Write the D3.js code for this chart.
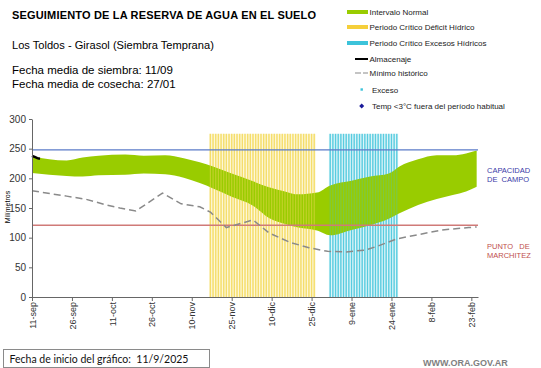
<!DOCTYPE html>
<html><head><meta charset="utf-8">
<script src="https://cdn.jsdelivr.net/npm/d3@7"></script>
<style>
body{margin:0;background:#fff;}
svg{display:block;font-family:"Liberation Sans",Arial,sans-serif;}
</style></head>
<body><svg id="c" width="541" height="368"></svg>
<script>
// ---- data (day offsets from 11/9/2025) ----
const tickDays = [0,15,30,45,60,75,90,105,120,135,150,165];
const tickLabels = ["11-sep","26-sep","11-oct","26-oct","10-nov","25-nov","10-dic","25-dic","9-ene","24-ene","8-feb","23-feb"];
const yTicks = [0,50,100,150,200,250,300];

const normalDays  = [0,13,19,25,35,42,50,57,63,68,75,83,89,95,100,107,112,120,127,134,138,145,152,158,163,167];
const normalUpper = [237,230,235,238,240,238,239,234,227,220,208,195,185,178,173,176,188,196,203,208,220,232,239,239,242,247];
const normalLower = [209,204,203,205,206,208,207,201,192,183,169,154,133,123,117,112,104,113,121,132,141,155,165,172,178,186];

const minDays = [0,13,20,28,33,39,49,56,63,67,73,83,89,97,104,111,118,125,130,137,145,154,164,167];
const minVals = [179,170,165,155,150,145,175,157,152,143,117,130,108,92,83,77,76,79,86,98,105,113,117,118];

const storDays = [0,1,2,3];
const storVals = [238,236,234,233];

const deficitPeriod = [67,106];   // first and last day
const excessPeriod  = [112,137];
const periodHeight = 275;

const capacidadCampo = 248;
const puntoMarchitez = 121;

// ---- layout ----
const svg = d3.select("#c");
const x = d3.scaleLinear().domain([0,167.5]).range([32,478]);
const y = d3.scaleLinear().domain([0,300]).range([297,119]);

// titles
svg.append("text").attr("x",12).attr("y",19).attr("font-weight","bold").attr("font-size",11)
  .attr("textLength",304).attr("lengthAdjust","spacing").text("SEGUIMIENTO DE LA RESERVA DE AGUA EN EL SUELO");
svg.append("text").attr("x",12).attr("y",49).attr("font-size",11.1).text("Los Toldos - Girasol (Siembra Temprana)");
svg.append("text").attr("x",12).attr("y",74).attr("font-size",11.5).text("Fecha media de siembra: 11/09");
svg.append("text").attr("x",12).attr("y",88).attr("font-size",11.5).text("Fecha media de cosecha: 27/01");

// critical periods (background part, behind the band)
function periodBack(range,pale,strong){
  const days = d3.range(range[0],range[1]+1);
  const g = svg.append("g");
  g.append("rect").attr("x",x(range[0]-0.5)).attr("y",y(periodHeight))
    .attr("width",x(range[1]+0.5)-x(range[0]-0.5)).attr("height",y(0)-y(periodHeight))
    .attr("fill",pale).attr("opacity",0.5);
  g.selectAll("rect.s").data(days).join("rect").attr("class","s")
    .attr("x",d=>x(d)-0.65).attr("width",1.3)
    .attr("y",y(periodHeight)).attr("height",y(0)-y(periodHeight))
    .attr("fill",strong).attr("opacity",0.75);
}
function periodFront(range,strong,op){
  const days = d3.range(range[0],range[1]+1);
  svg.append("g").selectAll("rect").data(days).join("rect")
    .attr("x",d=>x(d)-0.6).attr("width",1.2)
    .attr("y",y(periodHeight)).attr("height",y(0)-y(periodHeight))
    .attr("fill",strong).attr("opacity",op);
}
periodBack(deficitPeriod,"#FBEFB0","#F3D95A");
periodBack(excessPeriod,"#BDEBF4","#3CC3DA");

// normal band
const band = normalDays.map((d,i)=>({d,u:normalUpper[i],l:normalLower[i]}));
svg.append("path").datum(band)
  .attr("fill","#99CC00")
  .attr("d",d3.area().x(p=>x(p.d)).y0(p=>y(p.l)).y1(p=>y(p.u)).curve(d3.curveMonotoneX));

periodFront(deficitPeriod,"#F3D95A",0.45);
periodFront(excessPeriod,"#3CC3DA",0.3);

// reference lines
svg.append("line").attr("x1",x(0)).attr("x2",x(167.5)).attr("y1",y(capacidadCampo)).attr("y2",y(capacidadCampo)).attr("stroke","#5B7BC8").attr("stroke-width",1.2);
svg.append("line").attr("x1",x(0)).attr("x2",x(167.5)).attr("y1",y(puntoMarchitez)).attr("y2",y(puntoMarchitez)).attr("stroke","#D07A78").attr("stroke-width",1.6);

// minimum line
svg.append("path").datum(minDays.map((d,i)=>[d,minVals[i]]))
  .attr("fill","none").attr("stroke","#8A8A8A").attr("stroke-width",1.5).attr("stroke-dasharray","7,4")
  .attr("d",d3.line().x(p=>x(p[0])).y(p=>y(p[1])));

// storage
svg.append("path").datum(storDays.map((d,i)=>[d,storVals[i]]))
  .attr("fill","none").attr("stroke","#000").attr("stroke-width",2.5)
  .attr("d",d3.line().x(p=>x(p[0])).y(p=>y(p[1])));

// axes
const ax = svg.append("g").attr("transform",`translate(0,${y(0)})`)
  .call(d3.axisBottom(x).tickValues(tickDays).tickFormat((d,i)=>tickLabels[i]).tickSize(4).tickSizeOuter(0));
ax.selectAll("text").attr("transform","rotate(-90)").attr("text-anchor","end")
  .attr("x",-5).attr("y",0).attr("dy","0.35em").attr("font-size",9).attr("fill","#333")
  .attr("font-family","Liberation Sans, Arial, sans-serif");
const ay = svg.append("g").attr("transform",`translate(${x(0)},0)`)
  .call(d3.axisLeft(y).tickValues(yTicks).tickSize(3).tickSizeOuter(0));
ay.selectAll("text").attr("font-size",10).attr("fill","#333").attr("x",-6)
  .attr("font-family","Liberation Sans, Arial, sans-serif");
svg.selectAll(".domain, .tick line").attr("stroke","#666");

svg.append("text").attr("transform",`translate(10,207) rotate(-90)`).attr("text-anchor","middle")
  .attr("font-size",7).text("Milímetros");

// right labels
svg.append("text").attr("x",487).attr("y",173).attr("font-size",7.5).attr("fill","#3A3AA8").text("CAPACIDAD");
svg.append("text").attr("x",487).attr("y",182).attr("font-size",7.5).attr("fill","#3A3AA8").attr("xml:space","preserve").text("DE  CAMPO");
svg.append("text").attr("x",487).attr("y",249).attr("font-size",7.5).attr("fill","#C0504D").attr("xml:space","preserve").text("PUNTO   DE");
svg.append("text").attr("x",487).attr("y",258).attr("font-size",7.5).attr("fill","#C0504D").text("MARCHITEZ");

// legend
const legendItems = [
  {t:"Intervalo Normal",k:"rect",c:"#99CC00",y:12},
  {t:"Periodo Crítico Déficit Hídrico",k:"rect",c:"#F5CF3A",y:27},
  {t:"Periodo Crítico Excesos Hídricos",k:"rect",c:"#3CC3DA",y:43},
  {t:"Almacenaje",k:"line",c:"#000",y:59},
  {t:"Mínimo histórico",k:"dash",c:"#8A8A8A",y:73},
  {t:"Exceso",k:"dot",c:"#3CC3DA",y:89.5},
  {t:"Temp <3°C fuera del período habitual",k:"diamond",c:"#1A1A9A",y:106}
];
const lg = svg.append("g");
legendItems.forEach(it=>{
  if(it.k==="rect") lg.append("rect").attr("x",347).attr("y",it.y-2).attr("width",21).attr("height",4).attr("fill",it.c);
  if(it.k==="line") lg.append("line").attr("x1",355).attr("x2",368).attr("y1",it.y).attr("y2",it.y).attr("stroke",it.c).attr("stroke-width",2);
  if(it.k==="dash") lg.append("line").attr("x1",355).attr("x2",368).attr("y1",it.y).attr("y2",it.y).attr("stroke",it.c).attr("stroke-width",1.2).attr("stroke-dasharray","6,2,5");
  if(it.k==="dot") lg.append("rect").attr("x",360.5).attr("y",it.y-1.2).attr("width",2.4).attr("height",2.4).attr("fill",it.c);
  if(it.k==="diamond") lg.append("path").attr("transform",`translate(361.7,${it.y})`).attr("d","M0,-2.5L2.5,0L0,2.5L-2.5,0Z").attr("fill",it.c);
  lg.append("text").attr("x",it.k==="dot"||it.k==="diamond"?372:369.5).attr("y",it.y+3).attr("font-size",8).attr("fill","#222").text(it.t);
});

// footer
svg.append("rect").attr("x",3.5).attr("y",349.5).attr("width",206).attr("height",18).attr("fill","#fff").attr("stroke","#8a8a8a");
svg.append("text").attr("x",9.5).attr("y",363).attr("font-size",10.5).attr("font-family","Lato, sans-serif").attr("fill","#111").attr("xml:space","preserve").text("Fecha de inicio del gráfico:  11/9/2025");
svg.append("text").attr("x",423).attr("y",366).attr("font-size",9).attr("font-weight","bold").attr("fill","#808080").text("WWW.ORA.GOV.AR");
</script></body></html>
